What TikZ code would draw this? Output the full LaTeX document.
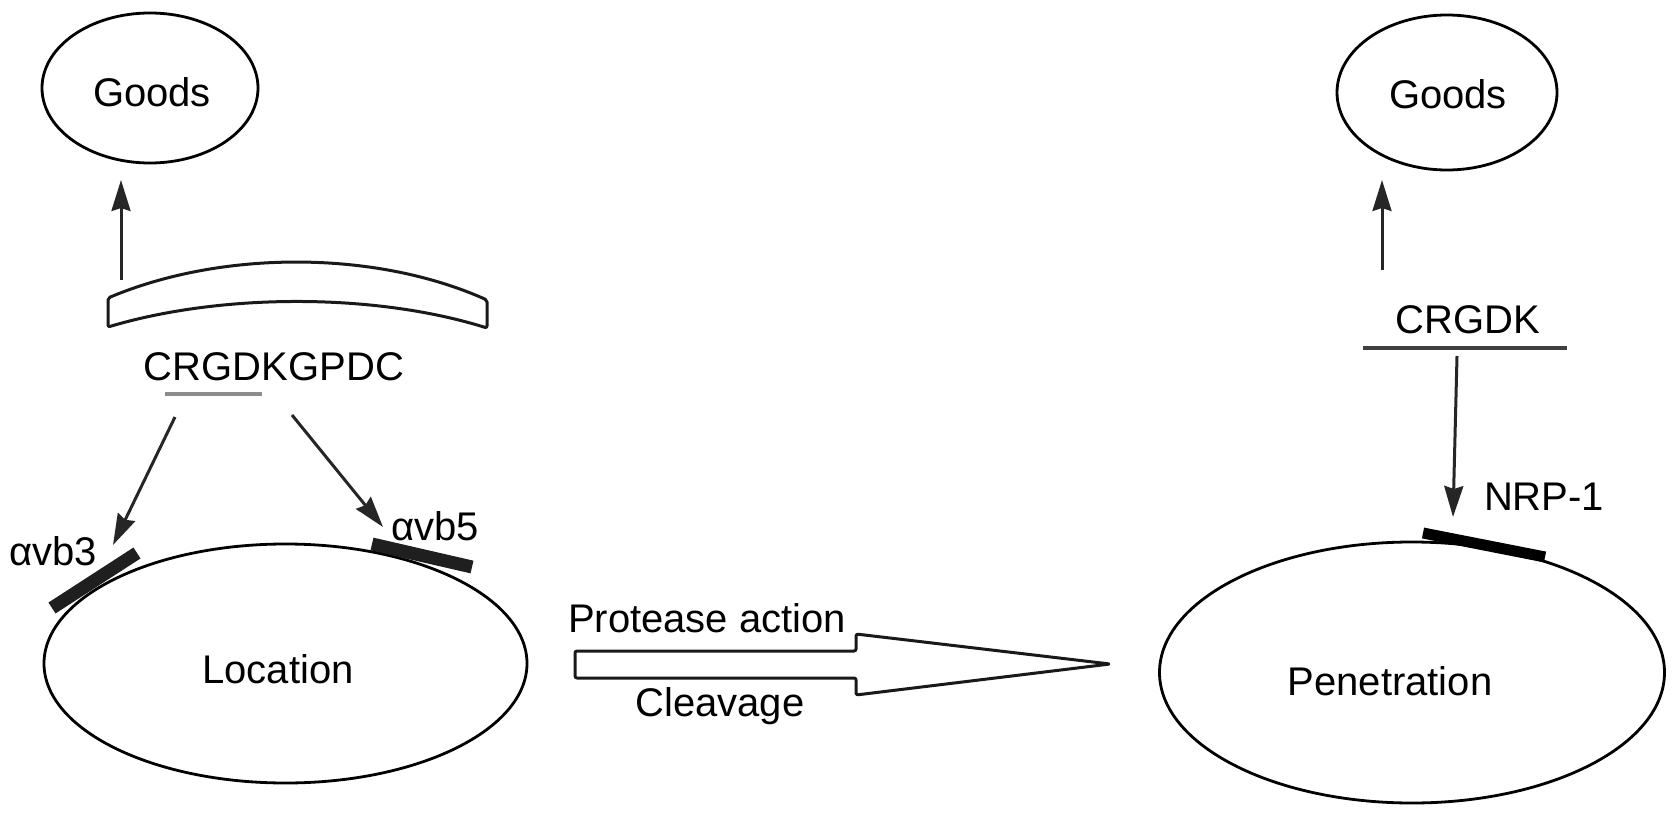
\documentclass[tikz,border=0pt]{standalone}
\usepackage{fontspec}
\setmainfont{Liberation Sans}
\usetikzlibrary{shapes.geometric,arrows.meta}
\begin{document}
\begin{tikzpicture}[x=1pt,y=-1pt,
  oval/.style={draw, ellipse, line width=2.8pt, inner sep=0pt},
  lbl/.style={anchor=base, inner sep=0pt, font=\fontsize{40}{48}\selectfont},
  arr/.style={draw=black!85, line width=3pt, -{Stealth[length=31pt,width=19pt,inset=3pt]}},
  receptor/.style={draw=black!88, line width=13pt},
  hollow/.style={draw=black!90, fill=white, line width=3pt, rounded corners=2pt, line join=round},
]
\useasboundingbox (0,0) rectangle (1678,818);

% ---------- left side ----------
\node[oval, minimum width=216pt, minimum height=150pt] (goodsL) at (150,88) {};
\node[lbl] (goodsLt) at (152,107) {Goods};

\draw[hollow] (108,298) .. controls (222,250) and (375,250) .. (487,300) -- (487,328)
   .. controls (375,293) and (222,293) .. (108,327) -- cycle;
\coordinate (upLa) at (121,280);
\coordinate (upLb) at (121,180);
\draw[arr] (upLa) -- (upLb);

\node[lbl] (pepL) at (274,380) {CRGDKGPDC};
\coordinate (ulA) at (165,394);
\coordinate (ulB) at (262,394);
\draw[draw=black!45, line width=4pt] (ulA) -- (ulB);

\node[oval, minimum width=483pt, minimum height=239pt] (loc) at (285.5,663.5) {};
\node[lbl] (loct) at (278,683) {Location};

\coordinate (r3a) at (137,553);
\coordinate (r3b) at (52,608);
\draw[receptor] (r3a) -- (r3b);
\coordinate (r5a) at (372,544);
\coordinate (r5b) at (472,567);
\draw[receptor] (r5a) -- (r5b);
\node[lbl] (av3) at (53,565) {αvb3};
\node[lbl] (av5) at (435,540) {αvb5};

\coordinate (dLa) at (175,417);
\coordinate (dLb) at (113,545);
\draw[arr] (dLa) -- (dLb);
\coordinate (dRa) at (292,415);
\coordinate (dRb) at (383,527);
\draw[arr] (dRa) -- (dRb);

% ---------- middle arrow ----------
\draw[hollow] (575,651) -- (856,651) -- (856,634) -- (1110,664) -- (856,695)
   -- (856,678) -- (575,678) -- cycle;
\node[lbl] (prot) at (707,632) {Protease action};
\node[lbl] (clv) at (720,716) {Cleavage};

% ---------- right side ----------
\node[oval, minimum width=220pt, minimum height=155pt] (goodsR) at (1447,92.5) {};
\node[lbl] (goodsRt) at (1448,109) {Goods};

\coordinate (upRa) at (1382,270);
\coordinate (upRb) at (1382,180);
\draw[arr] (upRa) -- (upRb);

\node[lbl] (pepR) at (1467.5,333) {CRGDK};
\coordinate (lnA) at (1363,348);
\coordinate (lnB) at (1567,348);
\draw[draw=black!75, line width=4pt] (lnA) -- (lnB);

\coordinate (dnA) at (1457,356);
\coordinate (dnB) at (1453,517);
\draw[arr] (dnA) -- (dnB);

\node[lbl] (nrp) at (1544,510) {NRP-1};

\node[oval, minimum width=505pt, minimum height=261pt] (pen) at (1412,672.5) {};
\node[lbl] (pent) at (1390,695) {Penetration};

\coordinate (rnA) at (1423,533);
\coordinate (rnB) at (1545,557);
\draw[draw=black, line width=11pt] (rnA) -- (rnB);
\end{tikzpicture}
\end{document}
